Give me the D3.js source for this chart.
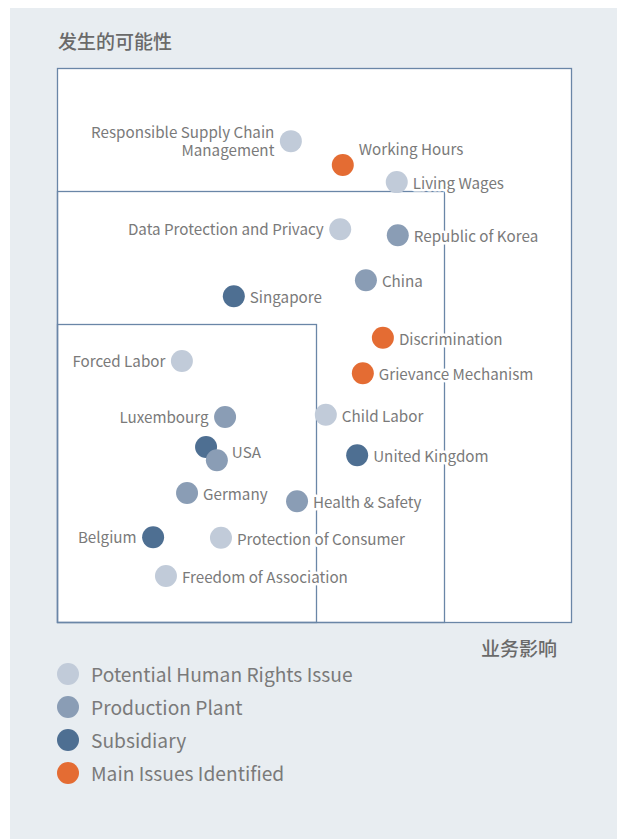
<!DOCTYPE html>
<html>
<head>
<meta charset="utf-8">
<script src="https://cdn.jsdelivr.net/npm/d3@7"></script>
<style>
  html, body { margin: 0; padding: 0; background: #ffffff; }
  svg { display: block; }
  text { font-family: "Noto Sans CJK SC", "Source Sans Pro", "Lato", sans-serif; }
</style>
</head>
<body>
<svg id="chart" width="617" height="839"></svg>
<script>
// ---- Data ----
const yAxisTitle = "发生的可能性";
const xAxisTitle = "业务影响";

const seriesNames = ["Potential Human Rights Issue", "Production Plant", "Subsidiary", "Main Issues Identified"];
const seriesKeys  = ["issue", "plant", "subsidiary", "main"];
const seriesColors = ["#c1cbd9", "#8a9db5", "#4e6f92", "#e46c33"];

// zone boundaries (business impact, likelihood) on 0-100 scales
const zoneX = [50.4, 75.3, 100];
const zoneY = [53.8, 77.8, 100];

const labels = [
  "Responsible Supply Chain\nManagement", "Working Hours", "Living Wages",
  "Data Protection and Privacy", "Republic of Korea", "China", "Singapore",
  "Discrimination", "Grievance Mechanism", "Forced Labor", "Child Labor",
  "Luxembourg", "", "USA", "United Kingdom", "Germany", "Health & Safety",
  "Belgium", "Protection of Consumer", "Freedom of Association"
];
const impact = [
  45.5, 55.6, 66.1,
  55.1, 66.3, 60.1, 34.4,
  63.4, 59.5, 24.3, 52.3,
  32.7, 29.0, 31.1, 58.4, 25.3, 46.7,
  18.7, 31.9, 21.2
];
const likelihood = [
  86.8, 82.5, 79.4,
  70.9, 69.8, 61.7, 58.8,
  51.3, 44.9, 47.1, 37.4,
  37.0, 31.6, 29.2, 30.1, 23.3, 21.8,
  15.3, 15.2, 8.3
];
const group = [
  "issue", "main", "issue",
  "issue", "plant", "plant", "subsidiary",
  "main", "main", "issue", "issue",
  "plant", "subsidiary", "plant", "subsidiary", "plant", "plant",
  "subsidiary", "issue", "issue"
];
const labelSide = [
  "left", "above", "right",
  "left", "right", "right", "right",
  "right", "right", "left", "right",
  "left", "none", "aboveRight", "right", "right", "right",
  "left", "right", "right"
];

// ---- Layout ----
const svg = d3.select("#chart");
const W = 617, H = 839;
const plot = { left: 57, right: 571, top: 68, bottom: 622 };
const R = 11;
const textColor = "#7a7a7a";
const lineColor = "#6a86a7";

const x = d3.scaleLinear().domain([0, 100]).range([plot.left, plot.right]);
const y = d3.scaleLinear().domain([0, 100]).range([plot.bottom, plot.top]);
const color = d3.scaleOrdinal().domain(seriesKeys).range(seriesColors);

// background panel
svg.append("rect").attr("x", 10).attr("y", 8).attr("width", W - 10).attr("height", H - 8)
  .attr("fill", "#e8edf1");

// zones (outer to inner)
const zones = zoneX.map((zx, i) => ({ x: zx, y: zoneY[i] })).reverse();
svg.append("rect")
  .attr("x", x(0)).attr("y", y(100))
  .attr("width", x(100) - x(0)).attr("height", y(0) - y(100))
  .attr("fill", "#ffffff");
svg.selectAll("rect.zone").data(zones).join("rect")
  .attr("class", "zone")
  .attr("x", x(0) + 0.5)
  .attr("y", d => Math.round(y(d.y)) + 0.5)
  .attr("width", d => Math.round(x(d.x) - x(0)))
  .attr("height", d => Math.round(y(0) - y(d.y)))
  .attr("fill", "none")
  .attr("stroke", lineColor)
  .attr("stroke-width", 1.3);

// axis titles
svg.append("text").attr("x", 58).attr("y", 49)
  .attr("font-size", 19).attr("font-weight", 500).attr("fill", "#6a6a6a")
  .text(yAxisTitle);
svg.append("text").attr("x", 557).attr("y", 656).attr("text-anchor", "end")
  .attr("font-size", 19).attr("font-weight", 500).attr("fill", "#6a6a6a")
  .text(xAxisTitle);

// points
const pts = labels.map((l, i) => ({ label: l, x: impact[i], y: likelihood[i], g: group[i], side: labelSide[i] }));

svg.append("g").selectAll("circle").data(pts).join("circle")
  .attr("cx", d => x(d.x)).attr("cy", d => y(d.y)).attr("r", R)
  .attr("fill", d => color(d.g));

// labels
const lg = svg.append("g").attr("font-size", 15.2).attr("fill", textColor);
pts.filter(d => d.side !== "none").forEach(d => {
  const cx = x(d.x), cy = y(d.y);
  let tx = cx, ty = cy, anchor = "start";
  if (d.side === "right") { tx = cx + 16; ty = cy; }
  else if (d.side === "left") { tx = cx - 16.5; ty = cy - 1; anchor = "end"; }
  else if (d.side === "above") { tx = cx + 16; ty = cy - 17; }
  else if (d.side === "aboveRight") { tx = cx + 15; ty = cy - 9; }
  const lines = d.label.split("\n");
  lines.forEach((ln, k) => {
    lg.append("text")
      .attr("text-anchor", anchor)
      .attr("stroke", "#ffffff").attr("stroke-width", 5).attr("stroke-linejoin", "round")
      .attr("paint-order", "stroke")
      .attr("dominant-baseline", "central")
      .attr("x", tx)
      .attr("y", ty + (k - (lines.length - 1) / 2) * 18)
      .text(ln);
  });
});

// legend
const legend = svg.append("g");
const legendY = d3.scalePoint().domain(seriesKeys).range([674, 773]);
seriesKeys.forEach((k, i) => {
  legend.append("circle").attr("cx", 68).attr("cy", legendY(k)).attr("r", 11).attr("fill", seriesColors[i]);
  legend.append("text").attr("x", 91).attr("y", legendY(k))
    .attr("dominant-baseline", "central")
    .attr("font-size", 19.2).attr("fill", textColor).text(seriesNames[i]);
});
</script>
</body>
</html>
